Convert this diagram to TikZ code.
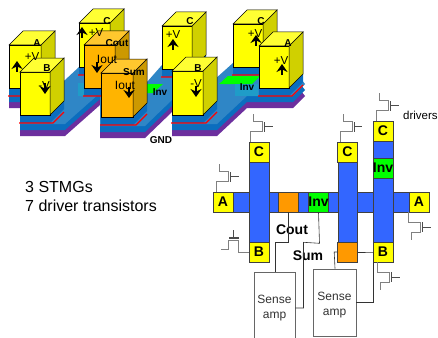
\documentclass[tikz,border=0pt]{standalone}
\usepackage{fontspec}
\setmainfont{Liberation Sans}
\usetikzlibrary{arrows.meta,positioning,calc}
\definecolor{slabtop}{HTML}{2F86C6}
\definecolor{slabfront}{HTML}{0B6DBE}
\definecolor{slabbase}{HTML}{6C2F9E}
\definecolor{lineblue}{HTML}{3366FF}
\definecolor{tealbox}{HTML}{1F9CC8}
\definecolor{wiregray}{HTML}{808080}
\definecolor{oszfront}{HTML}{FFB400}
\definecolor{oszside}{HTML}{CC9900}
\definecolor{osztop}{HTML}{FFC72E}
\definecolor{kimfill}{HTML}{FF9900}
\definecolor{sarga}{HTML}{FFFF00}
\definecolor{sargaside}{HTML}{D0D000}
\definecolor{sargatop}{HTML}{FFFF33}
\tikzset{
  lbl/.style={inner sep=0pt,font=\fontsize{10}{10}\selectfont\bfseries},
  volt/.style={inner sep=0pt,font=\fontsize{11.5}{11.5}\selectfont},
  cimbox/.style={draw=black!75,line width=.6pt,minimum width=20pt,minimum height=20pt,inner sep=0pt,
                 font=\fontsize{14}{14}\selectfont\bfseries},
  kapu/.style={cimbox,fill=sarga},
  kimenet/.style={cimbox,fill=kimfill},
  inv/.style={cimbox,fill=green},
  vonal/.style={draw=black!75,fill=lineblue,line width=.6pt},
  wire/.style={black!80,line width=.6pt},
  amp/.style={draw=black!60,line width=.7pt,inner sep=0pt,align=center,text=black!80,
              font=\fontsize{12}{14.5}\selectfont},
  upnyil/.style={-{Stealth[length=8pt,width=11pt]},line width=1.6pt},
  pics/driver/.style={code={
    \draw[wiregray,line width=1pt] (0,0) -- (0,-10) -- (12,-10) -- (12,-20) -- (3,-20) -- (3,-28);
    \draw[black!70,line width=1.3pt] (14,-10) -- (14,-20);
    \draw[black!70,line width=.8pt] (14,-15) -- (22,-15);
  }},
}
% x, y of front top corner, width, height, front, side, top
\newcommand{\pillar}[7]{
  \fill[slabfront] (#1,#2+#4) rectangle (#1+#3,#2+#4+8)
    (#1+#3,#2+#4) -- ++(14,-14) -- ++(0,8) -- ++(-14,14) -- cycle;
  \draw[red,line width=1.1pt] (#1-1,#2+#4+8) -- (#1+#3+3,#2+#4+8) -- ++(11,-11);
  \draw[black,line width=.5pt,fill=#5] (#1,#2) rectangle (#1+#3,#2+#4);
  \draw[black,line width=.5pt,fill=#6] (#1+#3,#2) -- ++(14,-14) -- ++(0,#4) -- ++(-14,14) -- cycle;
  \draw[black,line width=.5pt,fill=#7] (#1,#2) -- ++(14,-14) -- ++(#3,0) -- ++(-14,14) -- cycle;
}
\newcommand{\alap}{(20,124) -- (65,124) -- (100,93) -- (100,126) -- (145,126) -- (172,100) -- (172,124)
  -- (217,124) -- (247,96) -- (293,96) -- (305,84) -- (290,65) -- (233,63) -- (205,88) -- (190,88)
  -- (162,65) -- (147,82) -- (129,88) -- (124,67) -- (79,67) -- (65,80) -- (55,88) -- (9,88) -- (9,96)
  -- (20,96) -- cycle}
\begin{document}
\begin{tikzpicture}[x=1pt,y=-1pt]
  \useasboundingbox[fill=white] (0,0) rectangle (438,337);
  % szeletek
  \fill[slabbase] [yshift=-12pt] \alap;
  \fill[slabfront] [yshift=-6pt] \alap;
  \fill[slabtop] \alap;
  \fill[green] (147,84) -- (163,84) -- (153,93) -- (147,93) -- cycle;
  \fill[green] (228,76) -- (260,76) -- (252,84) -- (219,84) -- cycle;
  \fill[tealbox] (235,84) rectangle (258,96);
  \fill[tealbox] (78,83) rectangle (84,96);
  % oszlopok hatulrol elore
  \pillar{79}{23}{31}{44}{sarga}{sargaside}{sargatop}
  \pillar{162}{26}{30}{43}{sarga}{sargaside}{sargatop}
  \pillar{233}{24}{30}{43}{sarga}{sargaside}{sargatop}
  \pillar{9}{45}{32}{43}{sarga}{sargaside}{sargatop}
  \pillar{84}{45}{31}{43}{oszfront}{oszside}{osztop}
  \pillar{259}{46}{30}{42}{sarga}{sargaside}{sargatop}
  \pillar{20}{72}{30}{43}{sarga}{sargaside}{sargatop}
  \pillar{101}{73}{32}{44}{oszfront}{oszside}{osztop}
  \pillar{172}{71}{31}{44}{sarga}{sargaside}{sargatop}
  % nyilak
  \foreach \px/\py in {17/72,82/38,173/50,256/46,282/75}
    \draw[upnyil] (\px,\py) -- ++(0,-11);
  \foreach \px/\py in {45/83,97/62,129/87,196/86}
    \draw[upnyil] (\px,\py) -- ++(0,11);
  % feliratok
  \node[lbl] (ta) at (37,43) {A};
  \node[volt] (va) at (32,57) {+V};
  \node[lbl] (tb) at (47,68) {B};
  \node[volt] (vb) at (44,86) {-V};
  \node[lbl] (tc) at (107,21) {C};
  \node[volt] (vc) at (96,33) {+V};
  \node[lbl] (tcout) at (117,43) {Cout};
  \node[volt,font=\fontsize{12}{12}\selectfont] (icout) at (107,59) {Iout};
  \node[lbl] (tsum) at (134,72) {Sum};
  \node[volt,font=\fontsize{12}{12}\selectfont] (isum) at (125,85) {Iout};
  \node[lbl] (tinva) at (160,92) {Inv};
  \node[lbl] (tcb) at (190,21) {C};
  \node[volt] (vcb) at (173,35) {+V};
  \node[lbl] (tbb) at (198,68) {B};
  \node[volt] (vbb) at (196,84) {-V};
  \node[lbl] (tcc) at (261,21) {C};
  \node[volt] (vcc) at (255,34) {+V};
  \node[lbl] (tab) at (288,43) {A};
  \node[volt] (vab) at (281,61) {+V};
  \node[lbl] (tinvb) at (247,87) {Inv};
  \node[lbl] (gnd) at (161,140) {GND};
  \node[inner sep=0pt,anchor=west,align=left,font=\fontsize{16}{19}\selectfont] (stmg) at (25,196)
    {3 STMGs\\7 driver transistors};
  \node[volt,anchor=west] (drv) at (403,115) {drivers};
  % kapcsolas
  \fill[vonal] (233,192) rectangle (409,212);
  \fill[vonal] (249,162) rectangle (269,242);
  \fill[vonal] (338,162) rectangle (357,242);
  \fill[vonal] (373,141) rectangle (393,242);
  \node[kapu] (aL) at (223,202) {A};
  \node[kapu] (aR) at (419,202) {A};
  \node[kapu] (c1) at (259,152) {C};
  \node[kapu] (c2) at (347.5,152) {C};
  \node[kapu] (c3) at (383,131) {C};
  \node[kapu] (b1) at (259,252) {B};
  \node[kapu] (b3) at (383,252) {B};
  \node[inv] (i3) at (383,168) {Inv};
  \node[inv] (i1) at (318.5,202) {Inv};
  \node[kimenet] (o1) at (288.5,202) {};
  \node[kimenet] (o2) at (347.5,252) {};
  \node[amp,minimum width=41pt,minimum height=72pt] (sa1) at (274.5,308) {Sense\\amp};
  \node[amp,minimum width=43pt,minimum height=67pt] (sa2) at (334.5,302.5) {\rule{0pt}{13pt}Sense\\amp};
  \node[lbl,font=\fontsize{14}{14}\selectfont\bfseries] (lcout) at (292,230) {Cout};
  \node[lbl,font=\fontsize{14}{14}\selectfont\bfseries] (lsum) at (308,256) {Sum};
  \draw[wire] (o1.south) -- ++(0,30) -| ($(sa1.north)+(.5,0)$);
  \draw[wire] (i1.south) -- ++(1,31) -- ++(-16,-1) |- (sa1.east |- 0,308);
  \draw[wire] (o2.west) -- ++(-3,0) -- ($(sa2.north)+(0.5,0)$);
  \draw[wire] (o2.east) -- (b3.west) -- ++(1,0) |- (sa2.east |- 0,302);
  % vezerlok
  \path (c1.north west) ++(2,0) pic {driver};
  \path (c2.north west) ++(3,0) pic {driver};
  \path (c3.north west) ++(4,0) pic {driver};
  \path (aL.north west) ++(4,0) pic {driver};
  \path (aR.south west) pic[yscale=-1] {driver};
  \path (b3.south west) ++(5,0) pic[yscale=-1] {driver};
  \path (b1.west) pic[rotate=90] {driver};
\end{tikzpicture}
\end{document}
